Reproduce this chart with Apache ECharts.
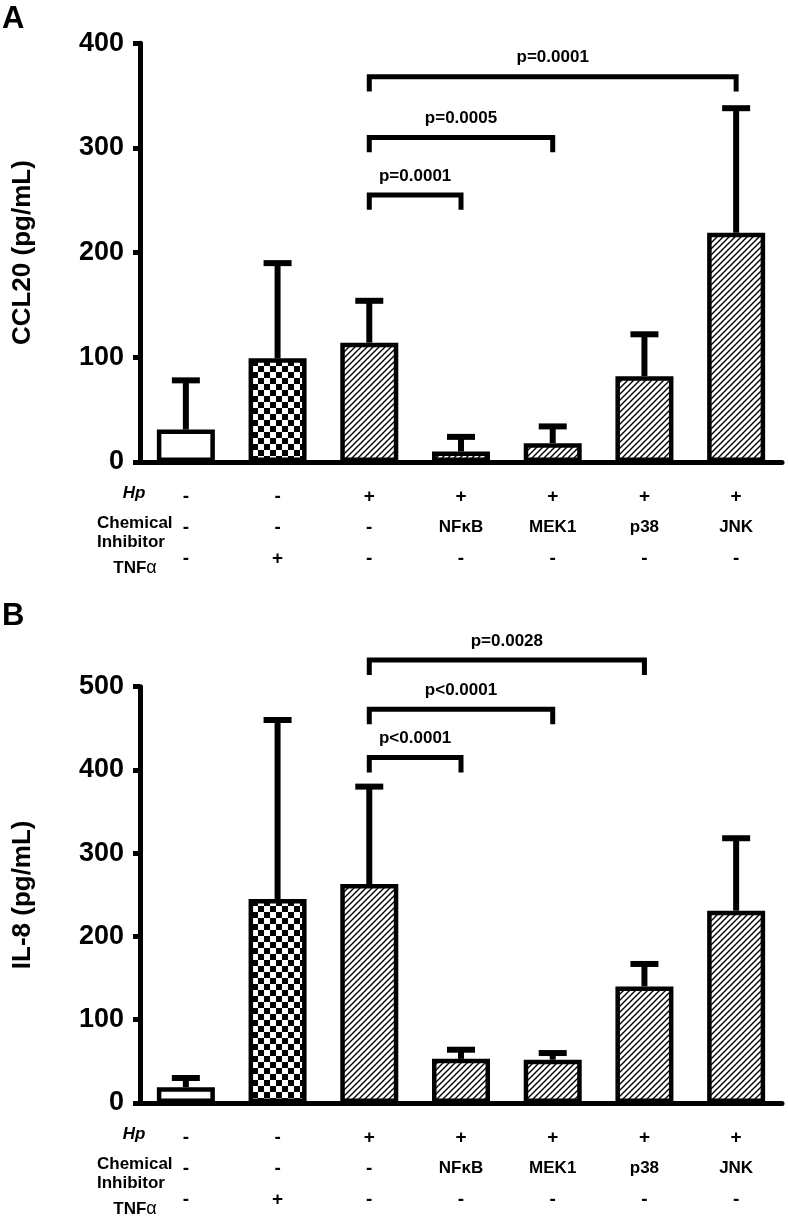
<!DOCTYPE html>
<html><head><meta charset="utf-8">
<script src="https://cdn.jsdelivr.net/npm/echarts@6/dist/echarts.min.js"></script>
<style>html,body{margin:0;padding:0;background:#fff}#c{width:788px;height:1216px}</style>
</head><body><div id="c"></div>
<script>
// ---- data ----
const categories = ['Control', 'TNFα', 'Hp', 'Hp+NFκB', 'Hp+MEK1', 'Hp+p38', 'Hp+JNK'];
const hpRow = ['-', '-', '+', '+', '+', '+', '+'];
const inhibitorRow = ['-', '-', '-', 'NFκB', 'MEK1', 'p38', 'JNK'];
const tnfRow = ['-', '+', '-', '-', '-', '-', '-'];

const ccl20Mean  = [31, 99, 114, 10, 18, 82, 219];
const ccl20Upper = [78, 190, 154, 24, 34, 122, 338];
const il8Mean    = [19, 245, 263, 53, 52, 140, 231];
const il8Upper   = [30, 460, 380, 64, 60, 167, 318];

const yMaxA = 400, yMaxB = 500, yStep = 100;

// significance brackets (from bar index 2 to index in *To)
const sigFrom = 2;
const sigToA = [3, 4, 6];
const sigLevelA = [255, 310, 368];
const sigTextA = ['p=0.0001', 'p=0.0005', 'p=0.0001'];
const sigToB = [3, 4, 5];
const sigLevelB = [415, 473, 532];
const sigTextB = ['p<0.0001', 'p<0.0001', 'p=0.0028'];

// ---- styles ----
const FONT = '"Liberation Sans", Arial, Helvetica, sans-serif';

function hatchPattern() {
  const c = document.createElement('canvas'); c.width = 6; c.height = 6;
  const g = c.getContext('2d');
  g.fillStyle = '#fff'; g.fillRect(0, 0, 6, 6);
  g.strokeStyle = '#000'; g.lineWidth = 1.4;
  g.beginPath();
  g.moveTo(-1, 7); g.lineTo(7, -1);
  g.moveTo(-1, 1); g.lineTo(1, -1);
  g.moveTo(5, 7); g.lineTo(7, 5);
  g.stroke();
  return c;
}
function checkerPattern() {
  const c = document.createElement('canvas'); c.width = 12; c.height = 12;
  const g = c.getContext('2d');
  g.fillStyle = '#fff'; g.fillRect(0, 0, 12, 12);
  g.fillStyle = '#000'; g.fillRect(0, 0, 6, 6); g.fillRect(6, 6, 6, 6);
  return c;
}
const hatch = { image: hatchPattern(), repeat: 'repeat' };
const checker = { image: checkerPattern(), repeat: 'repeat' };
const fills = ['#ffffff', checker, hatch, hatch, hatch, hatch, hatch];

const chart = echarts.init(document.getElementById('c'), null, { renderer: 'canvas' });

function xAxisFor(gridIndex) {
  return {
    type: 'category', gridIndex, data: categories,
    axisLine: { lineStyle: { color: '#000', width: 5 } },
    axisTick: { alignWithLabel: true, length: 9, lineStyle: { color: '#000', width: 4 } },
    axisLabel: {
      interval: 0, margin: 19, color: '#000',
      formatter: (v, i) => `{v|${hpRow[i]}}\n{${inhibitorRow[i].length > 1 ? 'n' : 'v'}|${inhibitorRow[i]}}\n{v|${tnfRow[i]}}`,
      rich: {
        v: { fontSize: 19, fontWeight: 'bold', fontFamily: FONT, lineHeight: 31, color: '#000' },
        n: { fontSize: 17, fontWeight: 'bold', fontFamily: FONT, lineHeight: 31, color: '#000' }
      }
    }
  };
}
function yAxisFor(gridIndex, max, name) {
  return {
    type: 'value', gridIndex, min: 0, max, interval: yStep,
    name, nameLocation: 'middle', nameGap: 104,
    nameTextStyle: { fontSize: 26, fontWeight: 'bold', fontFamily: FONT, color: '#000' },
    axisLine: { show: true, lineStyle: { color: '#000', width: 5 } },
    axisTick: { show: true, length: 7, lineStyle: { color: '#000', width: 5 } },
    axisLabel: { margin: 16, fontSize: 27, fontWeight: 'bold', fontFamily: FONT, color: '#000' },
    splitLine: { show: false }
  };
}
function barSeries(idx, values) {
  return {
    type: 'bar', xAxisIndex: idx, yAxisIndex: idx, barWidth: 58, z: 2,
    data: values.map((v, i) => ({ value: v, itemStyle: { color: fills[i] } })),
    itemStyle: { borderColor: '#000', borderWidth: 4.5 }
  };
}
function errSeries(idx, means, uppers) {
  return {
    type: 'custom', xAxisIndex: idx, yAxisIndex: idx, z: 3, silent: true,
    data: means.map((m, i) => [i, m, uppers[i]]),
    encode: { x: 0, y: [1, 2] },
    renderItem: (params, api) => {
      const p0 = api.coord([api.value(0), api.value(1)]);
      const p1 = api.coord([api.value(0), api.value(2)]);
      return {
        type: 'group', children: [
          { type: 'line', shape: { x1: p0[0], y1: p0[1], x2: p1[0], y2: p1[1] }, style: { stroke: '#000', lineWidth: 6 } },
          { type: 'line', shape: { x1: p1[0] - 14, y1: p1[1], x2: p1[0] + 14, y2: p1[1] }, style: { stroke: '#000', lineWidth: 6 } }
        ]
      };
    }
  };
}
function bracketSeries(idx, tos, levels, texts, drop) {
  return {
    type: 'custom', xAxisIndex: idx, yAxisIndex: idx, z: 4, silent: true, clip: false,
    data: tos.map((to, k) => [sigFrom, to, levels[k], levels[k] - drop, k]),
    encode: { x: [0, 1], y: [2, 3] },
    renderItem: (params, api) => {
      const a = api.coord([api.value(0), api.value(3)]);
      const b = api.coord([api.value(0), api.value(2)]);
      const c = api.coord([api.value(1), api.value(2)]);
      const d = api.coord([api.value(1), api.value(3)]);
      return {
        type: 'group', children: [
          { type: 'polyline', shape: { points: [a, b, c, d] },
            style: { stroke: '#000', lineWidth: 5, fill: null, lineJoin: 'miter', lineCap: 'butt' } },
          { type: 'text', x: (b[0] + c[0]) / 2, y: b[1] - 19,
            style: { text: texts[api.value(4)], fill: '#000', fontSize: 17, fontWeight: 'bold',
              fontFamily: FONT, textAlign: 'center', textVerticalAlign: 'middle' } }
        ]
      };
    }
  };
}

function rowLabels(y0) {
  const st = { fill: '#000', fontFamily: FONT, fontWeight: 'bold', fontSize: 17 };
  return [
    { type: 'text', x: 134, y: y0 + 31, style: Object.assign({}, st, { text: 'Hp', fontStyle: 'italic', textAlign: 'center', textVerticalAlign: 'middle' }) },
    { type: 'text', x: 97, y: y0 + 61, style: Object.assign({}, st, { text: 'Chemical', textAlign: 'left', textVerticalAlign: 'middle' }) },
    { type: 'text', x: 97, y: y0 + 80, style: Object.assign({}, st, { text: 'Inhibitor', textAlign: 'left', textVerticalAlign: 'middle' }) },
    { type: 'text', x: 135, y: y0 + 106, style: { text: '{b|TNF}{g|α}', textAlign: 'center', textVerticalAlign: 'middle',
        rich: { b: { fontFamily: FONT, fontWeight: 'bold', fontSize: 17, fill: '#000' }, g: { fontFamily: FONT, fontSize: 18, fill: '#000' } } } }
  ];
}

const option = {
  backgroundColor: '#fff',
  animation: false,
  grid: [
    { left: 140, width: 642, top: 43.3, height: 418.7 },
    { left: 140, width: 642, top: 686.7, height: 416.3 }
  ],
  xAxis: [xAxisFor(0), xAxisFor(1)],
  yAxis: [yAxisFor(0, yMaxA, 'CCL20 (pg/mL)'), yAxisFor(1, yMaxB, 'IL-8 (pg/mL)')],
  series: [
    barSeries(0, ccl20Mean), errSeries(0, ccl20Mean, ccl20Upper),
    barSeries(1, il8Mean), errSeries(1, il8Mean, il8Upper),
    bracketSeries(0, sigToA, sigLevelA, sigTextA, 14),
    bracketSeries(1, sigToB, sigLevelB, sigTextB, 18)
  ],
  graphic: [
    { type: 'text', x: 2, y: 19, style: { text: 'A', fontFamily: FONT, fontWeight: 'bold', fontSize: 31, fill: '#000', textVerticalAlign: 'middle' } },
    { type: 'text', x: 2, y: 616, style: { text: 'B', fontFamily: FONT, fontWeight: 'bold', fontSize: 31, fill: '#000', textVerticalAlign: 'middle' } },
    ...rowLabels(462),
    ...rowLabels(1103)
  ]
};
chart.setOption(option);
</script>
</body></html>
